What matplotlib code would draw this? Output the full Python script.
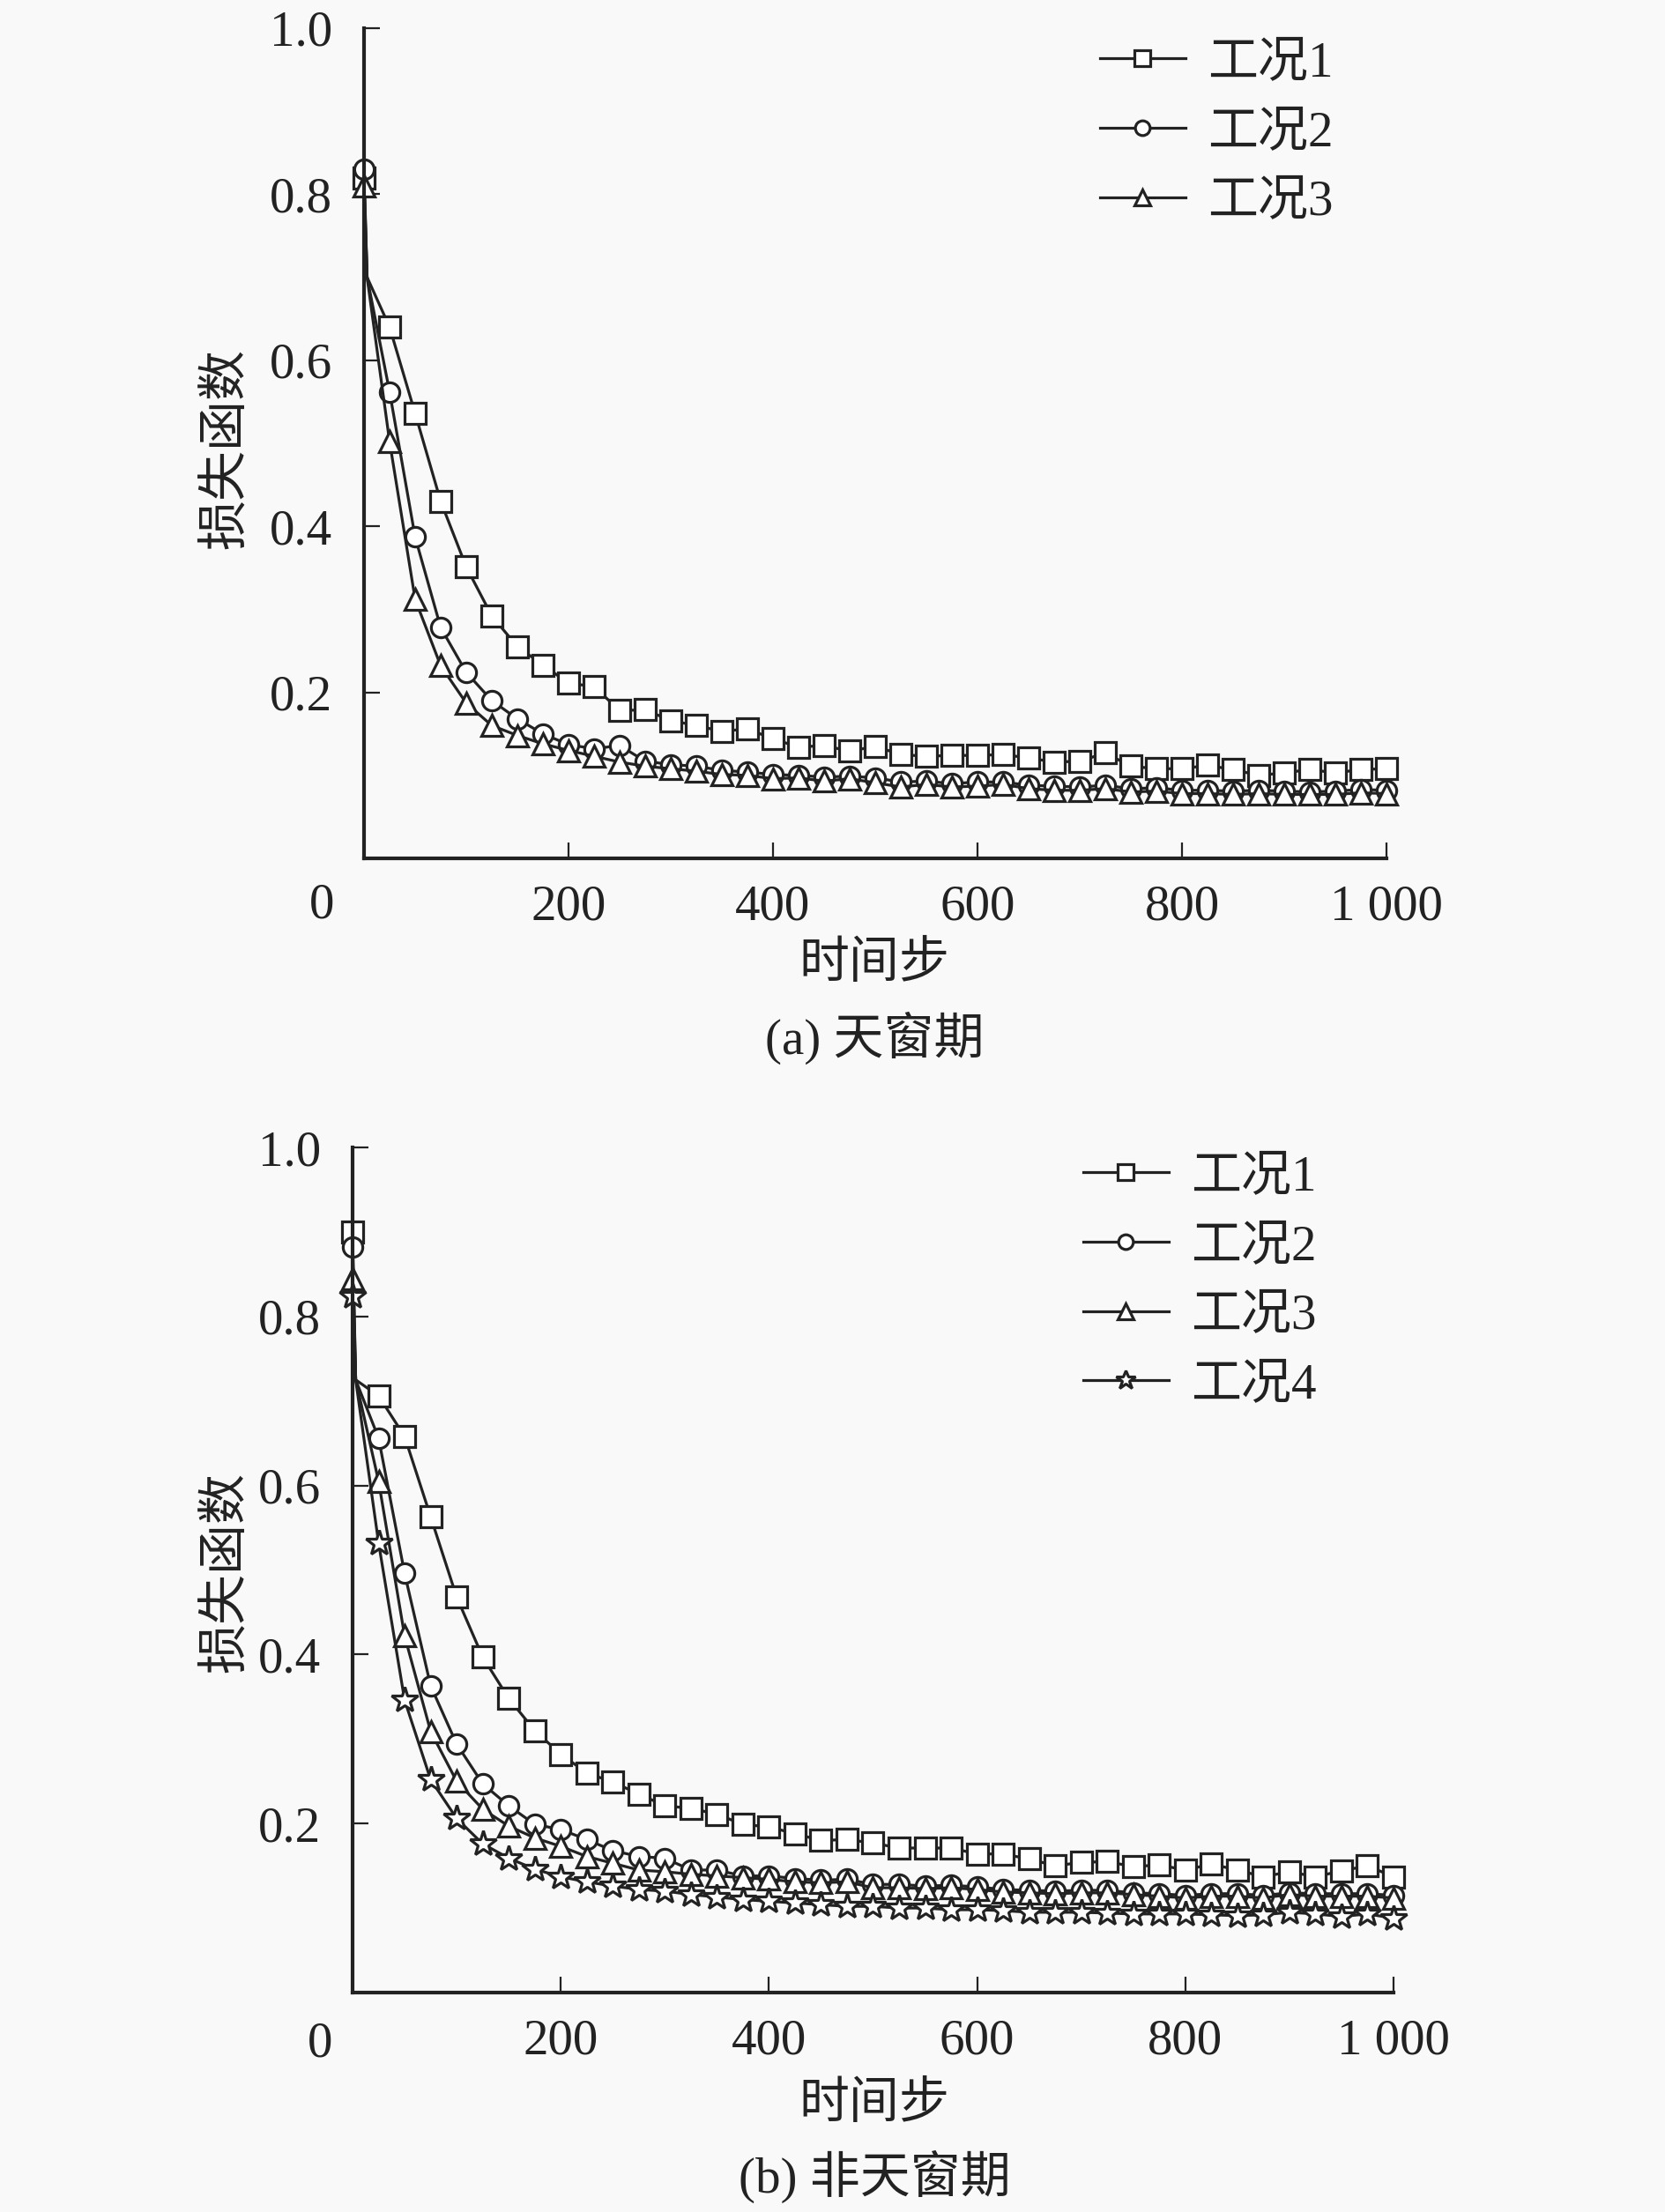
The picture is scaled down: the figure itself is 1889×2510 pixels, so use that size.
import numpy as np
import matplotlib
matplotlib.use('Agg')
import matplotlib.pyplot as plt

plt.rcParams['font.family'] = ['Liberation Serif', 'Noto Sans CJK SC']

# time steps of the marked points (every 25 steps), plus the kink right after step 0
steps = list(range(0, 1001, 25))
kink_step = 3

# (a) 天窗期
a_case1 = [0.82, 0.640, 0.536, 0.430, 0.351, 0.292, 0.255, 0.233, 0.211, 0.207,
           0.178, 0.179, 0.166, 0.160, 0.153, 0.156, 0.144, 0.134, 0.136, 0.129,
           0.135, 0.125, 0.123, 0.124, 0.124, 0.125, 0.121, 0.116, 0.117, 0.127,
           0.111, 0.108, 0.108, 0.112, 0.107, 0.100, 0.103, 0.107, 0.103, 0.107, 0.108]
a_case2 = [0.830, 0.562, 0.387, 0.278, 0.224, 0.190, 0.168, 0.150, 0.137, 0.132,
           0.136, 0.117, 0.113, 0.111, 0.106, 0.104, 0.101, 0.100, 0.098, 0.099,
           0.097, 0.092, 0.093, 0.090, 0.092, 0.092, 0.088, 0.087, 0.086, 0.088,
           0.084, 0.085, 0.082, 0.082, 0.081, 0.082, 0.081, 0.080, 0.081, 0.083, 0.082]
a_case3 = [0.810, 0.502, 0.312, 0.232, 0.187, 0.160, 0.148, 0.138, 0.130, 0.123,
           0.116, 0.111, 0.108, 0.105, 0.101, 0.100, 0.096, 0.097, 0.093, 0.096,
           0.091, 0.086, 0.089, 0.086, 0.087, 0.089, 0.084, 0.082, 0.082, 0.084,
           0.080, 0.081, 0.078, 0.078, 0.077, 0.078, 0.077, 0.077, 0.077, 0.079, 0.078]
a_kink = [0.70, 0.70, 0.70]

# (b) 非天窗期
b_case1 = [0.900, 0.706, 0.658, 0.563, 0.468, 0.397, 0.348, 0.310, 0.282, 0.260,
           0.249, 0.235, 0.221, 0.218, 0.211, 0.199, 0.196, 0.188, 0.180, 0.181,
           0.177, 0.171, 0.171, 0.171, 0.164, 0.164, 0.158, 0.150, 0.154, 0.155,
           0.149, 0.151, 0.145, 0.152, 0.145, 0.137, 0.143, 0.137, 0.144, 0.150, 0.137]
b_case2 = [0.882, 0.656, 0.496, 0.363, 0.294, 0.247, 0.221, 0.199, 0.193, 0.181,
           0.168, 0.161, 0.159, 0.145, 0.145, 0.138, 0.138, 0.135, 0.133, 0.134,
           0.128, 0.128, 0.126, 0.127, 0.125, 0.122, 0.121, 0.120, 0.121, 0.121,
           0.118, 0.117, 0.115, 0.117, 0.117, 0.115, 0.118, 0.117, 0.117, 0.117, 0.115]
b_case3 = [0.845, 0.605, 0.422, 0.309, 0.250, 0.217, 0.197, 0.183, 0.173, 0.161,
           0.153, 0.145, 0.143, 0.140, 0.138, 0.136, 0.134, 0.131, 0.130, 0.131,
           0.124, 0.124, 0.123, 0.124, 0.122, 0.119, 0.118, 0.117, 0.118, 0.118,
           0.116, 0.114, 0.112, 0.114, 0.114, 0.112, 0.116, 0.114, 0.114, 0.114, 0.112]
b_case4 = [0.824, 0.532, 0.346, 0.252, 0.206, 0.176, 0.159, 0.146, 0.137, 0.131,
           0.126, 0.122, 0.120, 0.116, 0.113, 0.110, 0.108, 0.106, 0.104, 0.102,
           0.102, 0.100, 0.100, 0.098, 0.098, 0.097, 0.095, 0.095, 0.095, 0.094,
           0.093, 0.093, 0.093, 0.092, 0.091, 0.092, 0.095, 0.093, 0.090, 0.093, 0.088]
b_kink = [0.725, 0.725, 0.725, 0.725]

labels_a = ['工况1', '工况2', '工况3']
labels_b = ['工况1', '工况2', '工况3', '工况4']
markers_a = ['s', 'o', '^']
markers_b = ['s', 'o', '^', '*']

xticks = [200, 400, 600, 800, 1000]
xticklabels = ['200', '400', '600', '800', '1 000']
yticks = [0.2, 0.4, 0.6, 0.8, 1.0]
yticklabels = ['0.2', '0.4', '0.6', '0.8', '1.0']

ink = '#222222'
bg = '#f9f9f9'
fs = 41

W, H = 1890, 2510
fig = plt.figure(figsize=(W / 100, H / 100), dpi=100, facecolor=bg)


def px_axes(x0, x1, y0, y1):
    # axes from pixel box (top-left origin)
    return fig.add_axes([x0 / W, 1 - y1 / H, (x1 - x0) / W, (y1 - y0) / H])


def draw(ax, series, kinks, markers, labels, leg_xy, zero_xy, ylab_xy, xlab_y, cap_y, caption):
    ax.set_facecolor(bg)
    for vals, kv, m, lab in zip(series, kinks, markers, labels):
        xs = [steps[0], kink_step] + steps[1:]
        ys = [vals[0], kv] + vals[1:]
        ms = 22 if m == '*' else (16 if m == 'o' else 17)
        ax.plot(xs, ys, color=ink, lw=2.3, marker=m, markersize=ms,
                markerfacecolor='white', markeredgecolor=ink, markeredgewidth=2.3,
                markevery=[0] + list(range(2, len(xs))), label=lab, clip_on=False)
    ax.set_xlim(0, 1000)
    ax.set_ylim(0, 1.0)
    for s in ['top', 'right']:
        ax.spines[s].set_visible(False)
    for s in ['left', 'bottom']:
        ax.spines[s].set_linewidth(3.0)
        ax.spines[s].set_color(ink)
    ax.set_xticks(xticks)
    ax.set_xticklabels(xticklabels)
    ax.set_yticks(yticks)
    ax.set_yticklabels(yticklabels)
    ax.tick_params(direction='in', length=13, width=1.6, color=ink,
                   labelsize=fs, labelcolor=ink)
    ax.tick_params(axis='x', pad=21)
    ax.tick_params(axis='y', pad=26)
    leg = ax.legend(loc='upper left', bbox_to_anchor=(leg_xy[0] / W, 1 - leg_xy[1] / H),
                    bbox_transform=fig.transFigure, frameon=False,
                    prop={'size': fs, 'weight': 'light'},
                    handlelength=1.7, handletextpad=0.45, labelspacing=0.47,
                    borderaxespad=0, borderpad=0, labelcolor=ink)
    for h in leg.legend_handles:
        h.set_markersize(h.get_markersize() * 0.75)
    fig.text(zero_xy[0] / W, 1 - zero_xy[1] / H, '0', fontsize=fs, color=ink,
             ha='center', va='center')
    fig.text(ylab_xy[0] / W, 1 - ylab_xy[1] / H, '损失函数', fontsize=fs, color=ink,
             rotation=90, ha='center', va='center', fontweight='light')
    fig.text(992 / W, 1 - xlab_y / H, '时间步', fontsize=fs, color=ink,
             ha='center', va='center', fontweight='light')
    fig.text(992 / W, 1 - cap_y / H, caption, fontsize=fs, color=ink,
             ha='center', va='center', fontweight='light')


ax1 = px_axes(413, 1573, 32, 974)
draw(ax1, [a_case1, a_case2, a_case3], a_kink, markers_a, labels_a,
     (1248, 46), (365, 1028), (256, 509), 1094, 1178, '(a) 天窗期')

ax2 = px_axes(400, 1581, 1302, 2261)
draw(ax2, [b_case1, b_case2, b_case3, b_case4], b_kink, markers_b, labels_b,
     (1229, 1310), (363, 2320), (256, 1784), 2388, 2470, '(b) 非天窗期')

fig.savefig('out.png', dpi=100, facecolor=bg)
